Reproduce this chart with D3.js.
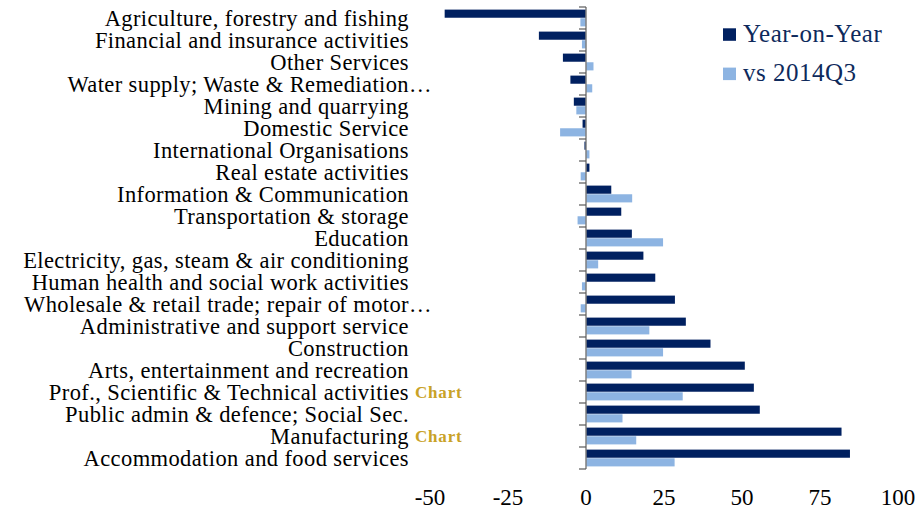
<!DOCTYPE html>
<head>
<meta charset="utf-8">
<style>
body { margin: 0; background: #fff; }
svg text { font-family: "Liberation Serif", serif; }
</style>
<script src="https://cdn.jsdelivr.net/npm/d3@7"></script>
</head>
<body>
<div id="chart"></div>
<script>

var categories = [
  "Agriculture, forestry and fishing",
  "Financial and insurance activities",
  "Other Services",
  "Water supply; Waste & Remediation\u2026",
  "Mining and quarrying",
  "Domestic Service",
  "International Organisations",
  "Real estate activities",
  "Information & Communication",
  "Transportation & storage",
  "Education",
  "Electricity, gas, steam & air conditioning",
  "Human health and social work activities",
  "Wholesale & retail trade; repair of motor\u2026",
  "Administrative and support service",
  "Construction",
  "Arts, entertainment and recreation",
  "Prof., Scientific & Technical activities",
  "Public admin & defence; Social Sec.",
  "Manufacturing",
  "Accommodation and food services"
];

var yearOnYear = [-45.3, -15.1, -7.4, -5.0, -3.9, -1.1, -0.5, 1.1, 8.1, 11.3, 14.7,
                  18.4, 22.2, 28.5, 32.0, 39.9, 50.9, 53.8, 55.7, 81.9, 84.6];
var vs2014Q3 = [-1.8, -1.3, 2.4, 2.0, -3.1, -8.3, 1.1, -1.7, 14.8, -2.7, 24.7,
                3.9, -1.3, -1.7, 20.3, 24.7, 14.6, 31.0, 11.7, 16.1, 28.4];

var seriesNames = ["Year-on-Year", "vs 2014Q3"];
var xTicks = [-50, -25, 0, 25, 50, 75, 100];
var chartLinks = ["Prof., Scientific & Technical activities", "Manufacturing"];

var colors = ["#002060", "#8DB4E2"];

var width = 916, height = 512;

var svg = d3.select("#chart").append("svg")
    .attr("width", width)
    .attr("height", height);

var x = d3.scaleLinear().domain([-50, 100]).range([430, 898]);

var y = d3.scaleBand().domain(categories).range([7, 469]);

var ySub = d3.scaleBand().domain(seriesNames)
    .range([2.6, y.bandwidth() - 2.6])
    .paddingInner(0.06);

var data = categories.map(function(c, i) {
  return {cat: c, values: [yearOnYear[i], vs2014Q3[i]]};
});

var rows = svg.selectAll(".row")
  .data(data)
  .enter().append("g")
    .attr("transform", function(d) { return "translate(0," + y(d.cat) + ")"; });

rows.selectAll("rect")
  .data(function(d) { return d.values.map(function(v, k) { return {s: seriesNames[k], v: v, k: k}; }); })
  .enter().append("rect")
    .attr("x", function(d) { return x(Math.min(0, d.v)); })
    .attr("width", function(d) { return Math.abs(x(d.v) - x(0)); })
    .attr("y", function(d) { return ySub(d.s); })
    .attr("height", ySub.bandwidth())
    .attr("fill", function(d) { return colors[d.k]; });

// category axis at zero
var yAxis = svg.append("g")
    .attr("transform", "translate(" + x(0) + ",0)");

yAxis.append("line")
    .attr("x1", 0).attr("x2", 0)
    .attr("y1", y.range()[0]).attr("y2", y.range()[1])
    .attr("stroke", "#7f7f7f")
    .attr("stroke-width", 1.5);

var bounds = categories.map(function(c) { return y(c); }).concat([y.range()[1]]);
yAxis.selectAll(".tk")
  .data(bounds)
  .enter().append("line")
    .attr("x1", -7).attr("x2", 0)
    .attr("y1", function(d) { return d; })
    .attr("y2", function(d) { return d; })
    .attr("stroke", "#595959")
    .attr("stroke-width", 1.2);

// category labels (a trailing ellipsis hangs past the right edge, as Excel does)
var labels = svg.selectAll(".cat")
  .data(categories)
  .enter().append("text")
    .attr("x", 409)
    .attr("y", function(d) { return y(d) + y.bandwidth() / 2; })
    .attr("dy", "0.36em")
    .attr("text-anchor", "end")
    .attr("font-size", "22.5px")
    .attr("letter-spacing", "0.4px")
    .attr("fill", "#000")
    .text(function(d) { return d.replace("\u2026", ""); });

svg.selectAll(".ell")
  .data(categories.filter(function(d) { return d.indexOf("\u2026") >= 0; }))
  .enter().append("text")
    .attr("x", 409)
    .attr("y", function(d) { return y(d) + y.bandwidth() / 2; })
    .attr("dy", "0.36em")
    .attr("font-size", "22.5px")
    .attr("fill", "#000")
    .text("\u2026");

svg.selectAll(".chartlink")
  .data(chartLinks)
  .enter().append("text")
    .attr("x", 415)
    .attr("y", function(d) { return y(d) + y.bandwidth() / 2; })
    .attr("dy", "0.36em")
    .attr("font-size", "17px")
    .attr("font-weight", "bold")
    .attr("letter-spacing", "0.8px")
    .attr("fill", "#C9A227")
    .text("Chart");

// value axis labels
svg.append("g")
    .attr("transform", "translate(0,505)")
  .selectAll("text")
  .data(xTicks)
  .enter().append("text")
    .attr("x", function(d) { return x(d); })
    .attr("text-anchor", "middle")
    .attr("font-size", "23px")
    .attr("fill", "#000")
    .text(function(d) { return d; });

// legend
var legend = svg.selectAll(".legend")
  .data(seriesNames)
  .enter().append("g")
    .attr("transform", function(d, i) { return "translate(723," + (28.3 + i * 39.3) + ")"; });

legend.append("rect")
    .attr("width", 13)
    .attr("height", 12.5)
    .attr("fill", function(d, i) { return colors[i]; });

legend.append("text")
    .attr("x", 20)
    .attr("y", 13.3)
    .attr("font-size", "25px")
    .attr("letter-spacing", "0.5px")
    .attr("fill", "#0E2A5C")
    .text(function(d) { return d; });

</script>
</body>
